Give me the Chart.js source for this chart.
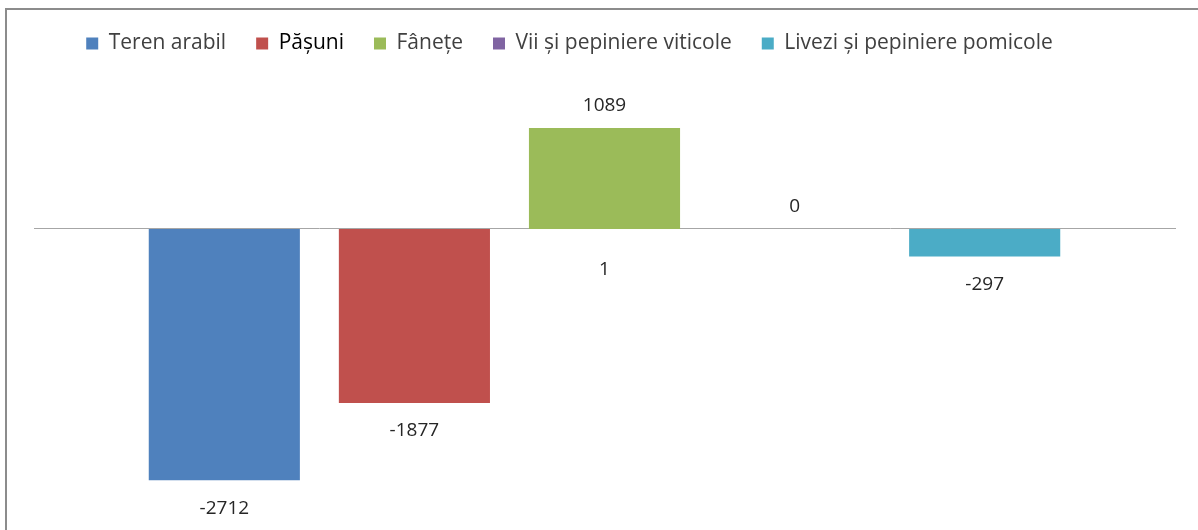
<!DOCTYPE html>
<html><head><meta charset="utf-8">
<script src="https://cdn.jsdelivr.net/npm/chart.js@4"></script>
<style>
html,body{margin:0;padding:0;background:#fff;}
#wrap{position:relative;width:1198px;height:530px;overflow:hidden;}
#frame{position:absolute;left:5px;top:8px;width:1300px;height:600px;border-left:2px solid #8c8c8c;border-top:2px solid #8c8c8c;}
canvas{position:absolute;left:0;top:0;}
</style></head><body>
<div id="wrap"><div id="frame"></div><canvas id="c" width="1198" height="530"></canvas></div>
<script>
const categories = ['1'];
const seriesNames = ['Teren arabil', 'Pășuni', 'Fânețe', 'Vii și pepiniere viticole', 'Livezi și pepiniere pomicole'];
const terenArabil = [-2712];
const pasuni = [-1877];
const fanete = [1089];
const vii = [0];
const livezi = [-297];
const seriesValues = [terenArabil, pasuni, fanete, vii, livezi];
const seriesColors = ['#4F81BD', '#C0504D', '#9BBB59', '#8064A2', '#4BACC6'];

const FONT = '"Open Sans"';

const valueLabels = {
  id: 'valueLabels',
  afterDatasetsDraw(chart) {
    const ctx = chart.ctx;
    ctx.save();
    ctx.font = '19px ' + FONT;
    ctx.fillStyle = '#262626';
    ctx.textAlign = 'center';
    ctx.textBaseline = 'middle';
    chart.data.datasets.forEach((ds, i) => {
      const meta = chart.getDatasetMeta(i);
      meta.data.forEach((bar, j) => {
        const v = ds.data[j];
        const y = v < 0 ? bar.y + 28 : bar.y - 22;
        ctx.fillText(String(v), bar.x, y);
      });
    });
    ctx.restore();
  }
};

const legendShift = {
  id: 'legendShift',
  afterLayout(chart) {
    const l = chart.legend;
    if (l) { l.left -= 35; l.right -= 35; }
  }
};

new Chart(document.getElementById('c'), {
  type: 'bar',
  data: {
    labels: categories,
    datasets: seriesNames.map((name, i) => ({
      label: name,
      data: seriesValues[i],
      backgroundColor: seriesColors[i],
      borderWidth: 0
    }))
  },
  options: {
    responsive: false,
    animation: false,
    layout: { padding: { left: 34, right: 23, top: 3, bottom: 23 } },
    datasets: { bar: { categoryPercentage: 0.833, barPercentage: 0.795 } },
    scales: {
      x: {
        position: { y: 0 },
        grid: { display: false, drawTicks: false },
        border: { display: true, color: '#A6A6A6', width: 1 },
        ticks: { padding: 29, color: '#262626', font: { family: 'Open Sans', size: 19 } }
      },
      y: { display: false, min: -3000, max: 1780 }
    },
    plugins: {
      tooltip: { enabled: false },
      legend: {
        position: 'top',
        labels: {
          boxWidth: 12, boxHeight: 12, padding: 30,
          color: '#404040',
          font: { family: 'Open Sans', size: 21 },
          generateLabels(chart) {
            const items = Chart.defaults.plugins.legend.labels.generateLabels(chart);
            items.forEach((it, i) => { it.lineWidth = 0; it.fontColor = i === 1 ? '#000000' : '#404040'; });
            return items;
          }
        }
      }
    }
  },
  plugins: [valueLabels, legendShift]
});
</script>
</body></html>
